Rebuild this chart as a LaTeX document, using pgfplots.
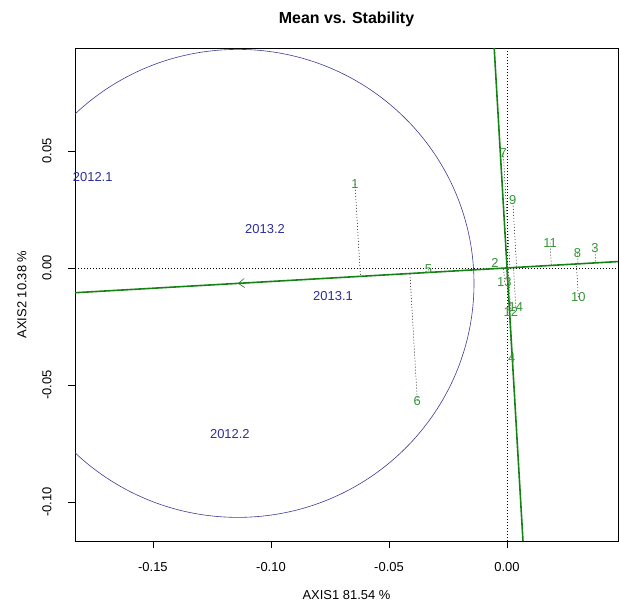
\documentclass[border=0pt]{standalone}
\usepackage{fontspec}
\setmainfont{Liberation Sans}
\usepackage{pgfplots}
\usepackage{pgfplotstable}
\pgfplotsset{compat=1.18}
\usetikzlibrary{arrows.meta}
\definecolor{envblue}{RGB}{45,45,155}
\definecolor{circblue}{RGB}{60,60,150}
\definecolor{lgreen}{RGB}{55,150,55}
\definecolor{dgreen}{RGB}{20,130,20}

\pgfplotstableread{
x y lab
-0.0644 0.0359 1
-0.0051 0.0023 2
0.0372 0.0084 3
0.0020 -0.0386 4
-0.0333 -0.0006 5
-0.0380 -0.0567 6
-0.0016 0.0490 7
0.0298 0.0065 8
0.0024 0.0291 9
0.0302 -0.0125 10
0.0182 0.0108 11
0.0016 -0.0187 12
-0.0011 -0.0059 13
0.0037 -0.0165 14
}\gentab

\pgfplotstableread{
x y lab
-0.1755 0.0389 2012.1
-0.1025 0.0167 2013.2
-0.1174 -0.0711 2012.2
-0.0737 -0.0121 2013.1
}\envtab

\begin{document}
\begin{tikzpicture}
\path[use as bounding box] (-75bp,-65bp) rectangle (545bp,541bp);
\begin{axis}[
  at={(0,0)}, anchor=south west,
  width=543bp, height=493bp, scale only axis,
  xmin=-0.183, xmax=0.047, ymin=-0.1167, ymax=0.094,
  axis line style={line width=0.75bp},
  xtick pos=bottom, ytick pos=left,
  tick align=outside, major tick length=7bp,
  tick style={line width=0.75bp, black},
  xtick={-0.15,-0.10,-0.05,0}, xticklabels={-0.15,-0.10,-0.05,0.00},
  ytick={-0.1,-0.05,0,0.05}, yticklabels={-0.10,-0.05,0.00,0.05},
  ticklabel style={font=\fontsize{13}{15}\selectfont},
  yticklabel style={rotate=90, anchor=south},
  xticklabel shift=11bp, yticklabel shift=13bp,
  xlabel={AXIS1 81.54 \%}, ylabel={AXIS2 10.38 \%},
  label style={font=\fontsize{13}{15}\selectfont},
  xlabel style={at={(0.5,-0.1095)}, anchor=center},
  ylabel style={at={(-0.0976,0.5)}, anchor=center},
  title={Mean vs. Stability},
  title style={at={(0.5,1.0609)}, anchor=center, yshift=-7pt, font=\bfseries\fontsize{16}{18}\selectfont},
]
% reference lines
\addplot[black, line width=0.5bp, dash pattern=on 1bp off 2bp] coordinates {(-0.183,0) (0.047,0)};
\addplot[black, line width=0.5bp, dash pattern=on 1bp off 2bp] coordinates {(0,-0.1167) (0,0.094)};
% projections onto average environment axis
\addplot[black, line width=0.5bp, dash pattern=on 1bp off 2bp] coordinates {(-0.0644,0.0359) (-0.062114,-0.003596)};
\addplot[black, line width=0.5bp, dash pattern=on 1bp off 2bp] coordinates {(-0.0051,0.0023) (-0.004950,-0.000287)};
\addplot[black, line width=0.5bp, dash pattern=on 1bp off 2bp] coordinates {(0.0372,0.0084) (0.037561,0.002175)};
\addplot[black, line width=0.5bp, dash pattern=on 1bp off 2bp] coordinates {(0.0020,-0.0386) (-0.000234,-0.0000135)};
\addplot[black, line width=0.5bp, dash pattern=on 1bp off 2bp] coordinates {(-0.0333,-0.0006) (-0.033223,-0.001924)};
\addplot[black, line width=0.5bp, dash pattern=on 1bp off 2bp] coordinates {(-0.0380,-0.0567) (-0.041145,-0.002382)};
\addplot[black, line width=0.5bp, dash pattern=on 1bp off 2bp] coordinates {(-0.0016,0.0490) (0.001233,0.0000714)};
\addplot[black, line width=0.5bp, dash pattern=on 1bp off 2bp] coordinates {(0.0298,0.0065) (0.030076,0.001741)};
\addplot[black, line width=0.5bp, dash pattern=on 1bp off 2bp] coordinates {(0.0024,0.0291) (0.004071,0.000236)};
\addplot[black, line width=0.5bp, dash pattern=on 1bp off 2bp] coordinates {(0.0302,-0.0125) (0.029378,0.001701)};
\addplot[black, line width=0.5bp, dash pattern=on 1bp off 2bp] coordinates {(0.0182,0.0108) (0.018763,0.001086)};
\addplot[black, line width=0.5bp, dash pattern=on 1bp off 2bp] coordinates {(0.0016,-0.0187) (0.000515,0.0000298)};
\addplot[black, line width=0.5bp, dash pattern=on 1bp off 2bp] coordinates {(-0.0011,-0.0059) (-0.001437,-0.0000832)};
\addplot[black, line width=0.5bp, dash pattern=on 1bp off 2bp] coordinates {(0.0037,-0.0165) (0.002735,0.000158)};
% average environment axis and its ordinate
\addplot[dgreen, line width=1.6bp] coordinates {(-0.183,-0.010589) (0.047,0.002720)};
\addplot[dgreen, line width=1.6bp] coordinates {(-0.005440,0.094) (0.006754,-0.1167)};
% circle
\draw[circblue, line width=0.6bp] (axis cs:-0.114,-0.0066) ellipse [x radius=0.100, y radius=0.100];
% arrow
\draw[dgreen, line width=0.6bp, -{Straight Barb[length=6bp,width=9bp]}] (axis cs:-0.106,-0.00614) -- (axis cs:-0.114,-0.0066);
% labels
\addplot[draw=none, mark=none, nodes near coords, point meta=explicit symbolic,
  nodes near coords style={anchor=center, text=lgreen, font=\fontsize{13}{15}\selectfont, inner sep=0pt}]
  table[x=x, y=y, meta=lab] {\gentab};
\addplot[draw=none, mark=none, nodes near coords, point meta=explicit symbolic,
  nodes near coords style={anchor=center, text=envblue, font=\fontsize{13}{15}\selectfont, inner sep=0pt}]
  table[x=x, y=y, meta=lab] {\envtab};
\end{axis}
\end{tikzpicture}
\end{document}
